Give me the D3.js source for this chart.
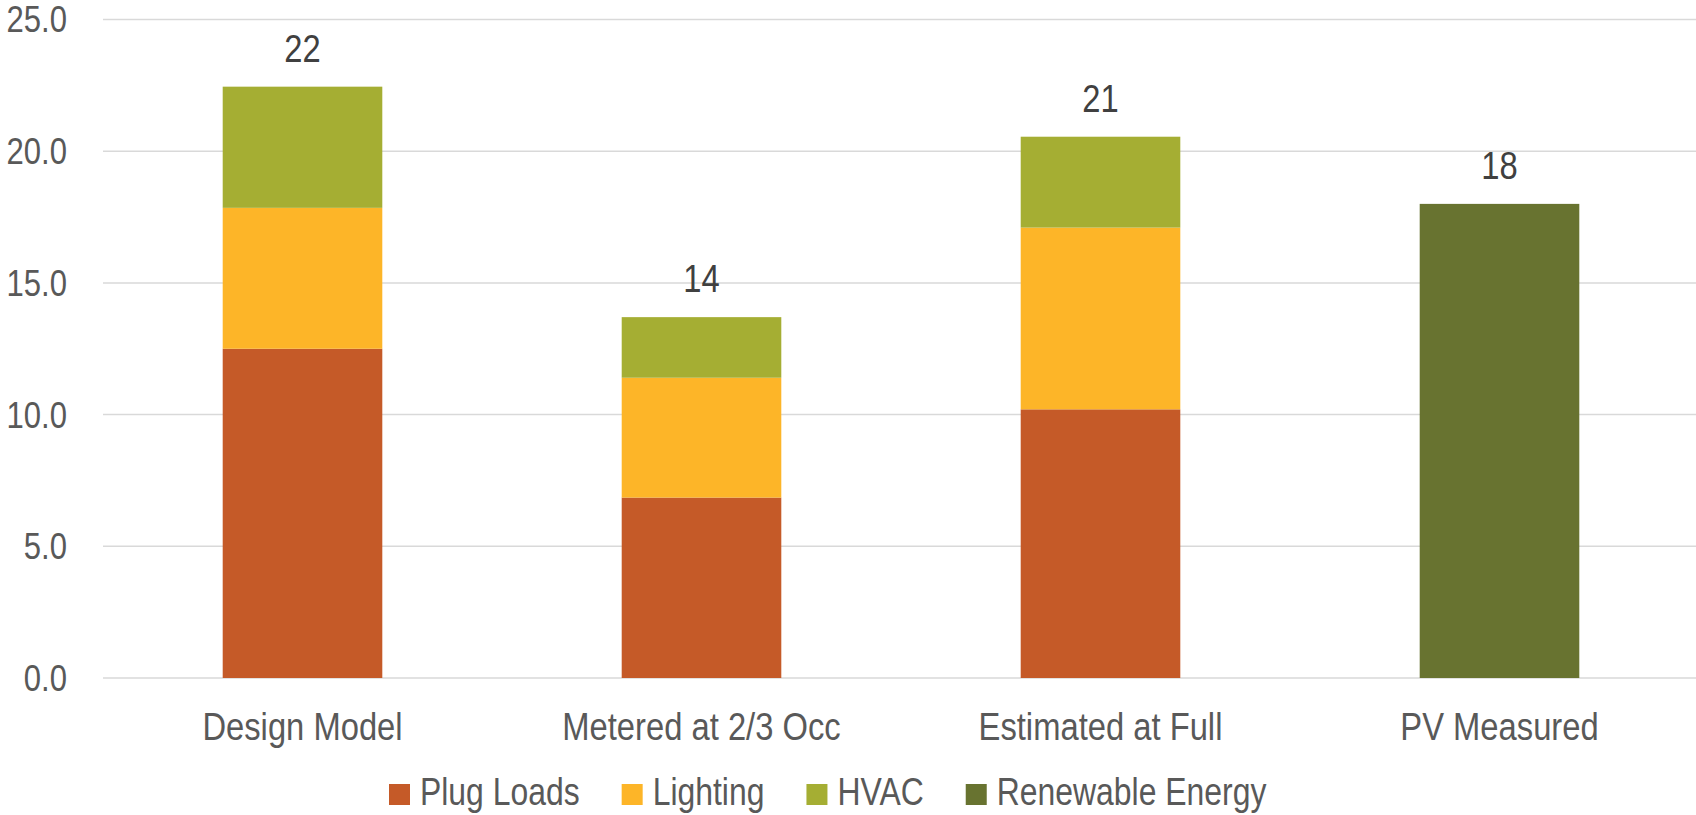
<!DOCTYPE html>
<html>
<head>
<meta charset="utf-8">
<script src="https://cdn.jsdelivr.net/npm/d3@7"></script>
<style>
  body { margin: 0; background: #fff; }
  text { font-family: "Liberation Sans", Arial, sans-serif; }
</style>
</head>
<body>
<svg width="1696" height="815"></svg>
<script>
const categories = ["Design Model", "Metered at 2/3 Occ", "Estimated at Full", "PV Measured"];
const seriesNames = ["Plug Loads", "Lighting", "HVAC", "Renewable Energy"];
const plugLoads = [12.5, 6.85, 10.2, 0];
const lighting = [5.35, 4.55, 6.9, 0];
const hvac = [4.6, 2.3, 3.45, 0];
const renewable = [0, 0, 0, 18.0];
const totalLabels = ["22", "14", "21", "18"];
const yTicks = [0, 5, 10, 15, 20, 25];
const colors = ["#C55A28", "#FDB528", "#A5AE33", "#687330"];

const svg = d3.select("svg");

const margin = { left: 103, right: -3, top: 19.5, bottom: 137 };
const width = 1696;
const height = 815;
const squeeze = 0.84; // the chart's font is a narrow face

// squeeze text horizontally around its own x anchor
function narrow(sel) {
    sel.each(function() {
        const t = d3.select(this);
        const x0 = +t.attr("x");
        t.attr("transform", `translate(${x0},0) scale(${squeeze},1) translate(${-x0},0)`);
    });
}

const rows = categories.map((c, i) => ({
    cat: c,
    "Plug Loads": plugLoads[i],
    "Lighting": lighting[i],
    "HVAC": hvac[i],
    "Renewable Energy": renewable[i]
}));

const x = d3.scaleBand()
    .domain(categories)
    .range([margin.left, width - margin.right])
    .paddingInner(0.6)
    .paddingOuter(0.3);

const y = d3.scaleLinear()
    .domain([0, 25])
    .range([height - margin.bottom, margin.top]);

// gridlines
svg.append("g")
    .selectAll("line")
    .data(yTicks)
    .join("line")
    .attr("x1", margin.left)
    .attr("x2", width)
    .attr("y1", d => y(d))
    .attr("y2", d => y(d))
    .attr("stroke", "#d9d9d9")
    .attr("stroke-width", 1.5);

// y labels
svg.append("g")
    .selectAll("text")
    .data(yTicks)
    .join("text")
    .attr("x", 67)
    .attr("y", d => y(d))
    .attr("dy", "0.35em")
    .attr("text-anchor", "end")
    .attr("font-size", 37)
    .attr("fill", "#595959")
    .text(d => d.toFixed(1))
    .call(narrow);

// stacked bars
const stacked = d3.stack().keys(seriesNames)(rows);

svg.append("g")
    .selectAll("g")
    .data(stacked)
    .join("g")
    .attr("fill", (d, i) => colors[i])
    .selectAll("rect")
    .data(d => d.filter(p => p[1] - p[0] > 0))
    .join("rect")
    .attr("x", d => x(d.data.cat))
    .attr("width", x.bandwidth())
    .attr("y", d => y(d[1]))
    .attr("height", d => y(d[0]) - y(d[1]));

// total labels
svg.append("g")
    .selectAll("text")
    .data(rows)
    .join("text")
    .attr("x", d => x(d.cat) + x.bandwidth() / 2)
    .attr("y", d => y(d["Plug Loads"] + d["Lighting"] + d["HVAC"] + d["Renewable Energy"]) - 25)
    .attr("text-anchor", "middle")
    .attr("font-size", 39)
    .attr("fill", "#404040")
    .text((d, i) => totalLabels[i])
    .call(narrow);

// category labels
svg.append("g")
    .selectAll("text")
    .data(categories)
    .join("text")
    .attr("x", d => x(d) + x.bandwidth() / 2)
    .attr("y", 740)
    .attr("text-anchor", "middle")
    .attr("font-size", 39)
    .attr("fill", "#595959")
    .text(d => d)
    .call(narrow);

// legend
const legend = svg.append("g");
let lx = 389;
seriesNames.forEach((name, i) => {
    legend.append("rect")
        .attr("x", lx)
        .attr("y", 784)
        .attr("width", 21)
        .attr("height", 21)
        .attr("fill", colors[i]);
    const t = legend.append("text")
        .attr("x", lx + 31)
        .attr("y", 805)
        .attr("font-size", 38)
        .attr("fill", "#595959")
        .text(name)
        .call(narrow);
    lx += 31 + t.node().getComputedTextLength() * squeeze + 42;
});
</script>
</body>
</html>
